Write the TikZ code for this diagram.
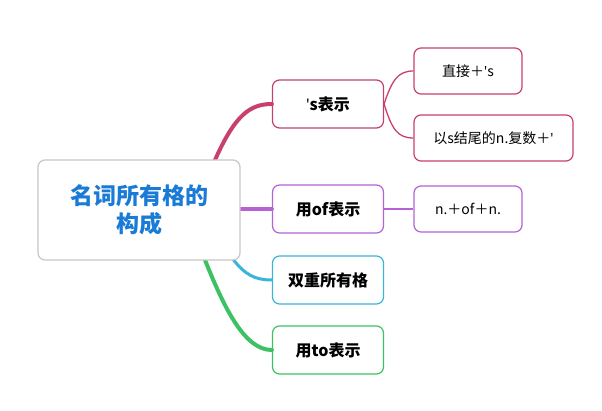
\documentclass[tikz,border=0pt]{standalone}
\usepackage{fontspec}
\setmainfont{Noto Sans CJK SC}
\newfontfamily\latf{Noto Sans}
\newcommand{\apos}{{\latf\symbol{"27}}}
\begin{document}
\begin{tikzpicture}[x=1pt,y=-1pt,
 box/.style={draw,rounded corners=7pt,line width=1.2pt,fill=white,inner sep=0pt},
 lvl1/.style={box,minimum width=111pt,minimum height=48pt,font=\fontsize{16}{18}\selectfont\bfseries},
 lvl2/.style={box,minimum height=46pt,font=\fontsize{14}{16}\selectfont},
 br/.style={line width=4pt,line cap=round},
 tw/.style={line width=1.3pt}]
\definecolor{pk}{HTML}{C8406E}\definecolor{pu}{HTML}{B462D6}
\definecolor{cy}{HTML}{3AB4DC}\definecolor{gr}{HTML}{3CC264}
\definecolor{rt}{HTML}{1A7BD6}
\fill[white] (0,0) rectangle (602,411);
\useasboundingbox (0,0) rectangle (602,411);
\coordinate (rs) at (215,160);
\coordinate (rb) at (232,258);
\coordinate (rg) at (205,260);
\node[lvl1,draw=pk] (s) at (328,104) {\apos s表示};
\node[lvl1,draw=pu] (of) at (328,209) {用of表示};
\node[lvl1,draw=cy] (db) at (328,280) {双重所有格};
\node[lvl1,draw=gr] (to) at (328,350) {用to表示};
\draw[br,pk] (rs) .. controls (235,115) and (250,104) .. (s.west);
\draw[br,pu] (240,209) -- (of.west);
\draw[br,cy,line width=3pt] (rb) .. controls (245,275) and (255,280) .. (db.west);
\draw[br,gr] (rg) .. controls (225,310) and (245,350) .. (to.west);
\node[box,draw=black!22,minimum width=202pt,minimum height=100pt,text=rt,align=center,font=\fontsize{23}{28}\selectfont\bfseries] (root) at (139,210) {名词所有格的\\构成};
\node[lvl2,draw=pk,minimum width=108pt] (a) at (468,71) {直接＋\apos s};
\node[lvl2,draw=pk,minimum width=159pt] (b) at (493.5,138) {以s结尾的n.复数＋\apos};
\node[lvl2,draw=pu,minimum width=108pt] (c) at (468,209) {n.＋of＋n.};
\draw[tw,pk] (s.east) .. controls (392,80) and (398,71) .. (a.west);
\draw[tw,pk] (s.east) .. controls (392,130) and (398,138) .. (b.west);
\draw[tw,pu] (of.east) -- (c.west);
\end{tikzpicture}
\end{document}
